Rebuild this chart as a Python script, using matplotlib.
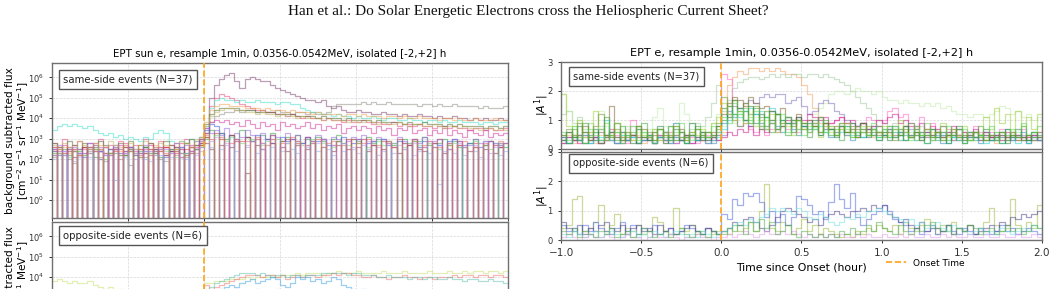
import numpy as np
import matplotlib
matplotlib.use("Agg")
import matplotlib.pyplot as plt
from matplotlib.lines import Line2D

# 2-min bins from -1 h to +2 h around the onset (91 edges, 90 bins)
T_EDGES = np.arange(-60, 122, 2) / 60.0

# ---------------------------------------------------------------------------
# Left column: background-subtracted flux, stored as log10(flux).
# -9 marks bins where the subtracted flux is <= 0 (drawn down to the axis).
# ---------------------------------------------------------------------------
SAME_FLUX = [
    [2.5, 2.3, -9, 2.6, 2.4, 2.2, -9, 2.5, 2.7, 2.4, 2.3, -9, 2.6, 2.5, 2.2, 2.4, -9, 2.3, 2.6, 2.5, 2.4, -9, 2.2, 2.5, 2.6, 2.3, -9, 2.4, 2.7, 2.8,
     3.3, 5.0, 5.6, 5.9, 6.1, 6.2, 5.8, 5.5, 5.9, 6.0, 5.9, 5.8, 5.8, 5.6, 5.5, 5.4, 5.3, 5.2, 5.1, 5.0, 4.9, 4.9, 4.8, 4.9, 4.6, 4.5, 4.6, 4.4, 4.3, 4.3,
     4.4, 4.3, 4.3, 4.2, 4.2, 4.3, 4.2, 4.2, 4.1, 4.2, 4.1, 4.1, 4.2, 4.1, 4.1, 4.0, 4.1, 4.0, 4.0, 4.1, 4.0, 4.0, 3.9, 4.0, 3.9, 4.0, 3.9, 3.9, 4.0, 3.9],
    [2.1, -9, 2.3, 2.0, 1.8, -9, 2.2, 2.4, -9, 2.1, 1.9, 2.3, -9, 2.0, 2.2, 1.7, -9, 2.3, 2.1, -9, 2.4, 2.0, 1.9, -9, 2.2, 2.5, 2.1, -9, 2.3, 2.6,
     3.0, 3.8, 4.1, 4.2, 4.3, 4.3, 4.4, 4.3, 4.4, 4.4, 4.3, 4.4, 4.3, 4.3, 4.4, 4.3, 4.3, 4.2, 4.3, 4.3, 4.2, 4.3, 4.2, 4.2, 4.3, 4.6, 4.7, 4.7, 4.7, 4.7,
     4.7, 4.8, 4.7, 4.8, 4.7, 4.7, 4.8, 4.7, 4.7, 4.7, 4.7, 4.7, 4.6, 4.7, 4.7, 4.6, 4.7, 4.6, 4.6, 4.7, 4.6, 4.6, 4.6, 4.6, 4.5, 4.6, 4.5, 4.5, 4.5, 4.6],
    [2.8, 2.6, 3.0, -9, 2.7, 2.9, 2.5, -9, 2.8, 3.0, 2.6, 2.7, -9, 2.9, 2.8, 2.5, 2.7, -9, 3.0, 2.8, 2.6, 2.9, -9, 2.7, 2.5, 2.8, 3.0, -9, 2.9, 3.1,
     3.5, 4.6, 5.0, 5.2, 5.1, 5.0, 4.9, 4.7, 4.6, 4.5, 4.4, 4.4, 4.3, 4.3, 4.2, 4.2, 4.1, 4.2, 4.1, 4.0, 4.1, 4.0, 4.0, 3.9, 4.0, 3.9, 3.9, 3.8, 3.9, 3.8,
     3.8, 3.9, 3.8, 3.7, 3.8, 3.7, 3.7, 3.8, 3.6, 3.7, 3.7, 3.6, 3.7, 3.6, 3.6, 3.5, 3.6, 3.6, 3.5, 3.6, 3.5, 3.5, 3.4, 3.5, 3.5, 3.4, 3.5, 3.4, 3.4, 3.5],
    [3.4, 3.6, 3.7, 3.6, 3.7, 3.6, 3.5, 3.6, 3.4, 3.3, 3.2, 3.3, 3.1, 3.2, 3.0, 3.1, 3.0, 2.9, 3.1, 3.0, 3.3, 3.4, 3.3, 2.9, 2.8, 2.9, 2.8, 3.0, 2.9, 3.1,
     3.6, 4.5, 4.9, 5.0, 4.9, 4.9, 4.8, 4.9, 4.8, 4.8, 4.9, 4.8, 4.8, 4.8, 4.7, 4.8, 4.8, 4.7, 4.7, 4.5, 4.4, 4.3, 4.3, 4.2, 4.2, 4.1, 4.2, 4.1, 4.1, 4.0,
     4.1, 4.0, 4.0, 4.1, 4.0, 3.9, 4.0, 4.0, 3.9, 3.9, 4.0, 3.9, 3.9, 3.8, 3.9, 3.9, 3.8, 3.9, 3.8, 3.8, 3.9, 3.8, 3.8, 3.8, 3.7, 3.8, 3.8, 3.7, 3.8, 3.8],
    [2.4, -9, 2.6, 2.3, 2.5, 2.2, -9, 2.6, 2.4, 2.7, -9, 2.3, 2.5, 2.4, -9, 2.6, 2.2, 2.5, 2.3, -9, 2.7, 2.4, 2.6, -9, 2.5, 2.3, 2.8, 2.6, -9, 2.9,
     3.8, 4.4, 4.6, 4.7, 4.7, 4.6, 4.6, 4.6, 4.5, 4.5, 4.5, 4.4, 4.5, 4.4, 4.4, 4.4, 4.3, 4.4, 4.3, 4.3, 4.3, 4.2, 4.3, 4.2, 4.2, 4.2, 4.2, 4.1, 4.2, 4.2,
     4.1, 4.2, 4.1, 4.1, 4.1, 4.0, 4.1, 4.1, 4.0, 4.1, 4.0, 4.0, 4.1, 4.0, 4.0, 4.0, 3.9, 4.0, 4.0, 3.9, 4.0, 3.9, 3.9, 4.0, 3.9, 3.9, 3.9, 4.0, 3.9, 3.9],
    [2.8, 2.6, -9, 2.9, 2.7, 2.5, 2.8, -9, 2.6, 2.9, 2.7, -9, 2.5, 2.8, 2.6, 2.9, -9, 2.7, 2.6, 2.8, -9, 2.5, 2.9, 2.7, 2.6, -9, 2.8, 3.0, 2.7, 3.0,
     3.7, 4.2, 4.4, 4.5, 4.5, 4.5, 4.5, 4.4, 4.4, 4.4, 4.3, 4.3, 4.3, 4.3, 4.2, 4.2, 4.2, 4.2, 4.1, 4.1, 4.1, 4.1, 4.0, 4.1, 4.0, 4.0, 4.0, 3.9, 4.0, 3.9,
     3.9, 3.9, 3.9, 3.8, 3.9, 3.8, 3.8, 3.8, 3.8, 3.7, 3.8, 3.7, 3.7, 3.8, 3.7, 3.7, 3.7, 3.6, 3.7, 3.6, 3.7, 3.6, 3.6, 3.6, 3.6, 3.5, 3.6, 3.6, 3.5, 3.6],
    [2.6, 2.4, 2.7, -9, 2.5, 2.3, 2.6, 2.8, -9, 2.4, 2.6, 2.5, -9, 2.7, 2.3, 2.6, 2.4, -9, 2.5, 2.7, 2.3, -9, 2.6, 2.4, 2.8, 2.5, -9, 2.7, 2.6, 3.0,
     3.3, 3.8, 3.9, 3.8, 3.9, 3.7, 3.8, 3.6, 3.9, 3.7, 3.5, 3.8, 3.6, 3.7, 3.4, 3.8, 3.6, 3.7, 3.5, 3.6, 3.8, 3.5, 3.7, 3.4, 3.6, 3.5, 3.7, 3.3, 3.5, 3.6,
     3.4, 3.6, 3.5, 3.3, 3.6, 3.4, 3.5, 3.2, 3.5, 3.4, 3.6, 3.3, 3.4, 3.5, 3.2, 3.4, 3.3, 3.5, 3.2, 3.4, 3.3, 3.1, 3.4, 3.3, 3.2, 3.4, 3.1, 3.3, 3.2, 3.3],
    [2.3, -9, 2.5, 2.2, -9, 2.4, 2.6, -9, 2.1, 2.4, -9, 2.5, 2.3, -9, 2.2, 2.5, -9, 2.4, 2.6, -9, 2.3, 2.1, -9, 2.5, 2.4, -9, 2.2, 2.6, -9, 2.7,
     3.1, 3.4, -9, 3.3, 3.0, 3.2, -9, 3.4, 3.1, 2.9, -9, 3.2, 3.0, 3.3, -9, 2.9, 3.1, -9, 3.2, 2.8, 3.0, -9, 3.1, 2.9, -9, 3.0, 3.2, 2.8, -9, 3.0,
     2.9, -9, 3.1, 2.8, 3.0, -9, 2.9, 2.7, -9, 3.0, 2.8, -9, 2.9, 3.1, 2.7, -9, 2.8, 3.0, -9, 2.9, 2.6, -9, 2.8, 3.0, -9, 2.7, 2.9, -9, 2.8, 2.6],
    [2.4, 2.2, -9, 2.5, -9, 2.3, 2.1, 2.6, -9, 2.4, 2.2, -9, 2.5, 2.3, -9, 2.6, 2.2, -9, 2.4, 2.3, 2.5, -9, 2.1, 2.4, -9, 2.6, 2.3, -9, 2.5, 2.8,
     3.4, 3.7, 3.6, 3.3, -9, 3.2, 3.0, -9, 3.1, 2.9, 3.2, -9, 3.0, 2.8, -9, 3.1, 2.9, 3.0, -9, 2.8, 3.1, -9, 2.9, 3.0, 2.7, -9, 2.9, 3.1, -9, 2.8,
     3.0, -9, 2.8, 2.9, -9, 3.0, 2.7, -9, 2.9, 2.8, -9, 3.0, 2.6, 2.9, -9, 2.8, 2.7, -9, 2.9, 3.0, -9, 2.7, 2.8, -9, 2.6, 2.9, -9, 2.8, 2.7, -9],
    [-9, 2.5, 2.2, -9, 2.4, -9, 2.6, 2.3, -9, 2.5, -9, 2.2, 2.4, -9, 2.6, -9, 2.3, 2.5, -9, 2.2, -9, 2.4, 2.6, -9, 2.3, -9, 2.5, 2.4, -9, 2.7,
     3.1, -9, 3.3, 3.0, -9, 3.2, -9, 2.9, 3.1, -9, 3.0, 2.8, -9, 3.2, -9, 2.9, 3.0, -9, 2.8, -9, 3.1, 2.9, -9, 3.0, -9, 2.7, 2.9, -9, 3.0, -9,
     2.8, 3.0, -9, 2.7, -9, 2.9, 2.8, -9, 3.0, -9, 2.7, 2.9, -9, 2.6, -9, 2.8, 3.0, -9, 2.7, -9, 2.9, 2.6, -9, 2.8, -9, 2.7, 2.9, -9, 2.6, 2.8],
    [2.2, -9, -9, 2.4, 2.1, -9, 2.3, -9, 2.5, 2.0, -9, 2.3, -9, 2.2, 2.4, -9, -9, 2.1, 2.3, -9, 2.5, -9, 2.2, 2.4, -9, 2.1, -9, 2.3, 2.5, -9,
     2.8, 2.5, -9, 2.7, -9, 2.6, 2.9, -9, 1.3, -9, 2.7, 2.5, -9, 2.8, -9, 2.6, 2.4, -9, 2.7, -9, 2.5, 2.8, -9, 2.6, -9, 2.4, 2.7, -9, 2.5, -9,
     2.6, -9, 2.4, 2.7, -9, 2.5, -9, 2.6, 2.3, -9, 2.7, -9, 2.5, 2.4, -9, 2.6, -9, 2.3, 2.5, -9, 2.7, -9, 2.4, 2.6, -9, 2.5, -9, 2.3, 2.6, -9],
    [2.5, 2.7, 2.4, -9, 2.6, 2.5, -9, 2.8, 2.4, 2.6, -9, 2.5, 2.7, -9, 2.4, 2.6, 2.5, -9, 2.7, 2.4, -9, 2.6, 2.5, 2.3, -9, 2.6, 2.7, -9, 2.5, 2.9,
     3.5, 3.3, 3.4, 3.2, 3.5, -9, 3.3, 3.1, 3.4, 3.2, -9, 3.3, 3.0, 3.2, 3.1, -9, 3.3, 3.0, 3.2, -9, 3.1, 2.9, 3.2, 3.0, -9, 3.1, 3.0, -9, 2.9, 3.1,
     3.0, 3.2, -9, 2.9, 3.1, 3.0, -9, 2.8, 3.1, 2.9, -9, 3.0, 2.8, 3.1, -9, 2.9, 3.0, -9, 2.8, 3.0, 2.9, -9, 2.7, 3.0, 2.8, -9, 2.9, 2.7, -9, 2.8],
    [2.0, -9, 2.2, -9, 1.9, 2.1, -9, 2.3, -9, 2.0, -9, 2.2, 1.0, -9, 2.1, -9, 2.3, -9, 2.0, 1.9, -9, 2.2, -9, 2.1, -9, 2.3, 2.0, -9, 2.2, 2.4,
     -9, 2.6, -9, 2.5, 2.7, -9, 2.4, -9, 2.6, -9, 2.3, 2.5, -9, 2.6, -9, 2.4, -9, 2.5, 2.3, -9, 2.6, -9, 2.4, -9, 2.5, 2.2, -9, 2.4, -9, 2.5,
     2.3, -9, 2.5, -9, 2.2, 2.4, -9, 2.3, -9, 2.5, -9, 2.2, 2.4, -9, 2.3, -9, 0.8, 2.4, -9, 2.3, -9, 2.2, -9, 2.4, 2.1, -9, 2.3, -9, 2.2, 2.4],
    [2.7, 2.5, 2.8, 2.6, -9, 2.9, 2.7, 2.5, 2.8, -9, 2.6, 2.9, 2.7, 2.6, -9, 2.8, 2.5, 2.7, 2.9, -9, 2.6, 2.8, 2.7, -9, 2.5, 2.9, 2.8, 2.6, 3.0, 3.1,
     3.6, 4.1, 4.3, 4.4, 4.5, 4.5, 4.4, 4.4, 4.3, 4.3, 4.2, 4.3, 4.2, 4.2, 4.1, 4.2, 4.1, 4.1, 4.0, 4.1, 4.0, 4.0, 4.0, 3.9, 4.0, 3.9, 3.9, 3.9, 3.8, 3.9,
     3.8, 3.8, 3.9, 3.8, 3.7, 3.8, 3.7, 3.7, 3.8, 3.7, 3.6, 3.7, 3.7, 3.6, 3.6, 3.7, 3.6, 3.5, 3.6, 3.6, 3.5, 3.6, 3.5, 3.5, 3.4, 3.5, 3.5, 3.4, 3.5, 3.4],
    [-9, 2.3, -9, 2.1, 2.4, -9, 2.2, -9, 2.5, -9, 2.0, 2.3, -9, 2.2, -9, 2.4, -9, 2.1, -9, 2.3, 2.2, -9, 2.4, -9, 2.1, -9, 2.3, -9, 2.5, 2.6,
     3.0, -9, 3.2, -9, 2.9, 3.1, -9, 2.8, -9, 3.0, -9, 2.7, 2.9, -9, 3.0, -9, 2.8, -9, 2.9, 2.7, -9, 3.0, -9, 2.8, -9, 2.6, 2.9, -9, 2.7, -9,
     2.8, -9, 2.6, -9, 2.9, 2.7, -9, 2.8, -9, 2.6, -9, 2.9, 2.7, -9, 2.8, -9, 2.5, -9, 2.7, 2.8, -9, 2.6, -9, 2.9, -9, 2.7, 2.5, -9, 2.8, -9],
    [2.2, -9, 2.4, -9, -9, 2.3, -9, 2.1, -9, 2.4, 2.2, -9, 2.5, -9, 2.3, -9, 2.0, -9, 2.4, -9, 2.2, 2.5, -9, 2.3, -9, 2.1, -9, 2.4, -9, 2.6,
     -9, 2.9, 3.1, -9, 2.8, -9, 3.0, -9, 2.7, 2.9, -9, 2.8, -9, 3.0, -9, 2.6, 2.8, -9, 2.9, -9, 2.7, -9, 2.8, 3.0, -9, 2.7, -9, 2.8, -9, 2.6,
     -9, 2.7, 2.9, -9, 2.6, -9, 2.8, -9, 2.7, 2.5, -9, 2.8, -9, 2.6, 2.9, -9, 2.7, -9, 2.5, -9, 2.8, 2.6, -9, 2.7, -9, 2.9, -9, 2.6, 2.8, -9],
    [2.6, -9, 2.3, 2.5, -9, 2.2, -9, 2.6, 2.4, -9, 2.3, -9, 2.5, -9, 2.7, 2.4, -9, 2.2, -9, 2.5, -9, 2.6, 2.3, -9, 2.4, -9, 2.2, 2.6, -9, 2.8,
     3.2, 3.0, -9, 3.1, -9, 2.8, 3.0, -9, 2.9, -9, 3.1, -9, 2.7, 3.0, -9, 2.8, -9, 3.1, 2.9, -9, 2.7, -9, 3.0, -9, 2.8, 2.9, -9, 2.7, -9, 3.0,
     -9, 2.8, 3.0, -9, 2.7, -9, 2.9, 2.6, -9, 2.8, -9, 3.0, -9, 2.7, 2.9, -9, 2.6, -9, 2.8, -9, 2.7, 2.9, -9, 2.6, -9, 2.8, -9, 2.7, 2.9, -9],
]
SAME_FLUX_COLORS = ["#7b3f6e", "#8c8c80", "#e8407f", "#3fe0c8", "#f0a050", "#4f6b28",
                    "#d0309a", "#2e9a3a", "#3050d0", "#c8302a", "#8b2a45", "#9060d8",
                    "#90a8f0", "#bdb060", "#70d070", "#b890f0", "#e06060"]

OPP_FLUX = [
    [3.8, 3.9, 3.8, 3.7, 3.8, 3.7, 3.7, 3.8, 3.6, 3.5, 3.4, 3.5, 3.3, 3.4, 3.2, 3.3, 3.1, 3.2, 3.0, 3.1, 2.9, 3.0, 2.8, 3.0, 2.9, 2.7, 2.9, 2.8, 3.0, 3.1,
     3.7, 3.7, 3.8, 3.8, 3.8, 3.9, 3.9, 3.9, 4.0, 3.9, 4.0, 4.0, 4.0, 4.1, 4.0, 4.1, 4.1, 4.1, 4.2, 4.1, 4.2, 4.2, 4.2, 4.1, 4.2, 4.2, 4.3, 4.2, 4.2, 4.2,
     4.3, 4.2, 4.2, 4.2, 4.2, 4.3, 4.2, 4.2, 4.2, 4.3, 4.2, 4.2, 4.2, 4.2, 4.3, 4.2, 4.2, 4.2, 4.3, 4.2, 4.2, 4.3, 4.2, 4.3, 4.3, 4.2, 4.3, 4.3, 4.2, 4.3],
    [3.0, 2.9, 3.1, 3.0, 2.8, 3.0, 2.9, 3.1, 3.0, 2.9, 2.8, 3.0, 3.1, 2.9, 3.0, 2.8, 2.9, 3.1, 3.0, 2.9, 3.0, 2.8, 3.1, 2.9, 3.0, 3.1, 2.9, 3.0, 3.2, 3.3,
     3.6, 3.4, 3.5, 3.6, 3.7, 3.8, 3.9, 4.0, 4.1, 4.1, 4.1, 4.0, 4.1, 4.1, 4.0, 4.1, 3.9, 4.0, 4.1, 4.0, 4.1, 4.1, 4.0, 4.1, 4.1, 4.2, 4.1, 4.2, 4.2, 4.1,
     4.1, 4.0, 4.0, 4.1, 4.0, 4.0, 3.9, 4.0, 4.0, 4.1, 4.0, 4.0, 3.9, 4.0, 4.0, 3.9, 4.0, 4.0, 4.0, 4.1, 4.0, 4.1, 4.1, 4.0, 4.1, 4.1, 4.0, 4.1, 4.1, 4.0],
    [2.8, 3.0, 2.9, 2.7, 2.9, 3.0, 2.8, 2.9, 2.7, 3.0, 2.8, 2.9, 2.6, 2.8, 3.0, 2.9, 2.7, 2.8, 3.0, 2.9, 2.7, 2.8, 2.9, 3.0, 2.8, 2.9, 3.1, 3.0, 3.1, 3.2,
     3.3, 3.5, 3.7, 3.8, 3.9, 4.0, 4.1, 4.2, 4.2, 4.2, 4.1, 4.2, 4.1, 4.0, 4.1, 4.1, 4.0, 4.1, 4.1, 4.0, 4.1, 4.1, 4.1, 4.2, 4.2, 4.2, 4.2, 4.2, 4.1, 4.2,
     4.2, 4.1, 4.1, 4.1, 4.0, 4.0, 4.1, 4.0, 4.0, 4.0, 3.9, 4.0, 4.0, 3.9, 4.0, 4.0, 3.9, 3.9, 4.0, 3.9, 3.9, 3.8, 3.9, 3.9, 3.8, 3.8, 3.9, 3.8, 3.8, 3.7],
    [2.6, 2.8, 2.7, 2.9, 2.6, 2.8, 2.7, 2.5, 2.8, 2.9, 2.7, 2.6, 2.8, 2.7, 2.9, 2.6, 2.8, 2.7, 2.5, 2.8, 2.7, 2.9, 2.6, 2.8, 2.7, 2.9, 2.8, 2.7, 2.9, 3.0,
     3.0, 3.2, 3.3, 3.4, 3.5, 3.6, 3.5, 3.7, 3.8, 3.9, 3.7, 3.8, 3.9, 4.0, 3.9, 3.6, 3.5, 3.7, 4.0, 3.9, 4.0, 3.8, 3.9, 3.7, 3.8, 4.0, 3.9, 3.6, 3.5, 3.4,
     3.3, 3.4, 3.2, 3.3, 3.1, 3.2, 3.0, 3.1, 3.2, 3.0, 3.1, 2.9, 3.0, 3.1, 2.9, 3.0, 2.8, 2.9, 3.0, 2.8, 2.9, 2.7, 2.8, 2.9, 2.7, 2.8, 2.6, 2.7, 2.8, 2.6],
    [2.4, 2.6, 2.5, 2.3, 2.6, 2.4, 2.5, 2.7, 2.4, 2.3, 2.5, 2.6, 2.4, 2.5, 2.3, 2.6, 2.4, 2.5, 2.7, 2.4, 2.5, 2.3, 2.6, 2.4, 2.5, 2.6, 2.4, 2.5, 2.7, 2.8,
     3.0, 3.1, 3.2, 3.3, 3.2, 3.3, 3.4, 3.3, 3.2, 3.3, 3.4, 3.3, 3.2, 3.3, 3.4, 3.3, 3.2, 3.1, 3.3, 3.2, 3.1, 3.2, 3.3, 3.2, 3.1, 3.2, 3.1, 3.0, 3.2, 3.1,
     3.1, 3.0, 3.1, 3.2, 3.0, 3.1, 3.0, 2.9, 3.1, 3.0, 2.9, 3.0, 3.1, 2.9, 3.0, 2.9, 2.8, 3.0, 2.9, 2.8, 2.9, 3.0, 2.8, 2.9, 2.8, 2.7, 2.9, 2.8, 2.7, 2.8],
    [2.2, 2.4, 2.1, 2.3, 2.5, 2.2, 2.4, 2.3, 2.1, 2.4, 2.2, 2.3, 2.5, 2.2, 2.4, 2.1, 2.3, 2.2, 2.4, 2.3, 2.1, 2.4, 2.2, 2.3, 2.5, 2.3, 2.2, 2.4, 2.5, 2.6,
     2.8, 3.0, 3.1, 3.0, 3.2, 3.1, 3.0, 3.1, 3.2, 3.0, 3.1, 2.9, 3.0, 3.1, 2.9, 3.0, 3.1, 2.9, 3.0, 2.8, 2.9, 3.0, 2.8, 2.9, 3.0, 2.8, 2.9, 2.7, 2.8, 2.9,
     2.8, 2.7, 2.9, 2.8, 2.6, 2.8, 2.7, 2.9, 2.7, 2.6, 2.8, 2.7, 2.6, 2.8, 2.7, 2.5, 2.7, 2.6, 2.8, 2.6, 2.5, 2.7, 2.6, 2.5, 2.7, 2.6, 2.4, 2.6, 2.5, 2.6],
]
OPP_FLUX_COLORS = ["#c4df6a", "#ee7070", "#5cc0b0", "#3ea0e0", "#c884d8", "#5aa85a"]

# ---------------------------------------------------------------------------
# Right column: first-order anisotropy |A1|
# ---------------------------------------------------------------------------
SAME_ANIS = [
    [0.3, 0.5, 0.2, 0.4, 0.6, 0.3, 0.2, 0.5, 0.4, 0.3, 0.6, 0.2, 0.4, 0.3, 0.5, 0.2, 0.4, 0.6, 0.3, 0.2, 0.5, 0.3, 0.4, 0.2, 0.5, 0.3, 0.6, 0.4, 0.3, 0.5,
     0.6, 2.2, 2.5, 2.7, 2.6, 2.8, 2.8, 2.7, 2.8, 2.7, 2.8, 2.7, 2.6, 2.6, 2.5, 2.2, 1.9, 1.4, 0.9, 0.7, 0.8, 0.6, 0.7, 0.5, 0.6, 0.4, 0.7, 0.5, 0.4, 0.6,
     0.5, 0.4, 0.6, 0.3, 0.5, 0.4, 0.3, 0.5, 0.4, 0.6, 0.3, 0.4, 0.5, 0.3, 0.4, 0.2, 0.5, 0.3, 0.4, 0.3, 0.5, 0.2, 0.4, 0.3, 0.5, 0.3, 0.4, 0.2, 0.3, 0.4],
    [1.2, 1.3, 0.9, 1.1, 0.7, 0.9, 0.6, 0.8, 0.5, 0.7, 0.6, 0.4, 0.8, 0.5, 0.7, 0.6, 0.4, 0.7, 0.5, 0.6, 0.8, 0.5, 0.6, 0.4, 0.7, 0.9, 0.8, 1.1, 1.6, 2.2,
     1.3, 1.7, 2.1, 2.3, 2.4, 2.5, 2.5, 2.4, 2.5, 2.6, 2.5, 2.6, 2.5, 2.6, 2.6, 2.5, 2.6, 2.6, 2.5, 2.6, 2.5, 2.4, 2.3, 2.2, 2.0, 1.8, 1.6, 1.4, 1.2, 1.0,
     0.9, 0.8, 0.9, 0.7, 0.8, 0.6, 0.7, 0.8, 0.6, 0.5, 0.7, 0.6, 0.5, 0.6, 0.4, 0.5, 0.6, 0.4, 0.5, 0.6, 0.4, 0.5, 0.3, 0.5, 0.4, 0.6, 0.4, 0.5, 0.3, 0.4],
    [1.9, 1.3, 0.8, 1.0, 0.7, 0.9, 0.6, 1.3, 0.8, 0.6, 0.9, 0.5, 0.7, 0.8, 0.6, 0.5, 0.7, 1.1, 1.4, 0.8, 0.6, 0.9, 1.6, 1.2, 0.9, 0.7, 0.8, 0.6, 0.9, 1.2,
     0.8, 1.1, 0.9, 1.2, 1.0, 0.9, 1.1, 0.8, 1.0, 0.9, 1.2, 1.0, 0.9, 0.8, 1.1, 0.9, 1.0, 1.2, 1.4, 1.6, 1.9, 2.0, 2.0, 1.9, 2.0, 2.1, 2.0, 2.0, 1.9, 2.0,
     1.8, 1.7, 1.7, 1.6, 1.7, 1.6, 1.6, 1.5, 1.6, 1.5, 1.6, 1.4, 1.5, 1.3, 1.2, 1.2, 1.1, 1.2, 1.2, 1.1, 1.2, 1.3, 1.5, 1.4, 1.2, 1.3, 1.1, 1.2, 1.0, 1.1],
    [0.3, 0.2, 0.5, 0.3, 0.4, 0.6, 0.3, 0.2, 0.4, 0.7, 0.5, 0.3, 0.2, 1.0, 0.4, 0.3, 0.5, 0.2, 0.4, 0.3, 0.6, 0.2, 0.3, 0.5, 0.4, 0.2, 0.3, 0.5, 0.3, 0.6,
     2.6, 2.4, 1.0, 0.8, 0.9, 0.7, 0.6, 0.8, 0.5, 0.7, 0.6, 0.8, 0.7, 0.9, 0.6, 0.8, 1.0, 0.9, 1.1, 0.8, 0.9, 1.0, 1.1, 0.9, 0.7, 0.8, 0.9, 1.1, 1.0, 0.8,
     1.0, 1.3, 1.4, 1.1, 1.2, 0.9, 0.8, 1.1, 0.7, 0.9, 0.6, 0.8, 0.7, 0.5, 0.7, 0.6, 0.5, 0.8, 0.6, 0.4, 0.6, 0.5, 0.7, 0.4, 0.6, 0.5, 0.7, 0.4, 0.5, 0.6],
    [0.2, 0.4, 0.3, 0.5, 0.2, 0.3, 0.4, 0.2, 0.5, 0.3, 0.4, 0.2, 0.3, 0.5, 0.2, 0.4, 0.3, 0.2, 0.4, 0.3, 0.5, 0.2, 0.3, 0.4, 0.2, 0.3, 0.5, 0.3, 0.4, 0.3,
     0.5, 1.2, 1.5, 1.4, 1.6, 1.7, 1.6, 1.8, 1.9, 1.8, 1.9, 1.9, 1.6, 1.7, 1.8, 1.5, 1.2, 1.3, 1.6, 1.7, 1.6, 1.3, 1.2, 1.0, 0.9, 0.8, 0.9, 0.7, 0.8, 0.6,
     0.7, 0.6, 0.8, 0.5, 0.6, 0.7, 0.5, 0.6, 0.4, 0.5, 0.6, 0.4, 0.5, 0.3, 0.5, 0.4, 0.6, 0.4, 0.3, 0.5, 0.4, 0.3, 0.5, 0.4, 0.3, 0.4, 0.5, 0.3, 0.4, 0.3],
    [0.4, 0.6, 0.3, 0.5, 0.8, 0.4, 0.3, 0.6, 0.5, 1.5, 0.4, 0.6, 0.3, 0.5, 0.4, 0.7, 0.3, 0.5, 0.4, 0.6, 0.3, 0.5, 0.7, 0.4, 0.6, 0.3, 0.5, 0.4, 0.6, 0.8,
     1.2, 1.6, 1.8, 1.7, 1.5, 1.8, 1.6, 1.4, 1.5, 1.3, 1.2, 1.4, 1.1, 1.0, 1.2, 0.9, 1.0, 0.8, 1.1, 0.9, 0.7, 0.8, 0.9, 0.6, 0.8, 0.7, 0.9, 0.6, 0.7, 0.5,
     0.6, 0.7, 0.5, 0.6, 0.8, 0.5, 0.6, 0.4, 0.7, 0.5, 0.6, 0.4, 0.5, 0.6, 0.3, 0.5, 0.4, 0.6, 0.3, 0.5, 0.4, 0.3, 0.5, 0.4, 0.6, 0.3, 0.4, 0.5, 0.3, 0.4],
    [0.4, 0.2, 0.5, 0.3, 0.6, 0.2, 0.4, 0.7, 0.3, 0.5, 0.2, 0.6, 0.3, 0.4, 0.8, 0.3, 0.5, 0.2, 0.4, 0.6, 0.3, 0.9, 0.4, 0.2, 0.5, 0.3, 0.6, 0.4, 0.2, 0.5,
     0.9, 1.3, 1.1, 1.4, 1.0, 0.8, 1.2, 0.9, 0.7, 1.0, 0.8, 0.6, 0.9, 0.7, 0.5, 0.8, 0.6, 0.9, 0.5, 0.7, 0.4, 0.6, 0.8, 0.5, 0.3, 0.6, 0.4, 0.7, 0.5, 0.3,
     0.5, 0.7, 0.4, 0.6, 0.3, 0.5, 0.8, 0.4, 0.6, 0.3, 0.5, 0.2, 0.6, 0.4, 0.7, 0.3, 0.5, 0.4, 0.2, 0.6, 0.3, 0.5, 0.4, 0.7, 0.3, 0.4, 0.6, 0.2, 0.5, 0.3],
    [0.2, 0.4, 0.3, 0.2, 0.5, 0.3, 0.4, 0.2, 0.3, 0.6, 0.2, 0.4, 0.3, 0.5, 0.2, 0.3, 0.4, 0.2, 0.5, 0.3, 0.2, 0.4, 0.3, 0.5, 0.2, 0.4, 0.3, 0.2, 0.4, 0.3,
     0.4, 0.6, 0.5, 0.7, 0.6, 0.8, 0.5, 0.7, 0.6, 0.9, 0.7, 0.8, 1.0, 0.9, 1.1, 1.0, 1.2, 1.1, 1.0, 1.1, 0.9, 1.0, 1.1, 0.9, 1.0, 0.8, 0.9, 0.7, 0.8, 1.0,
     0.9, 1.1, 1.2, 0.9, 1.0, 0.8, 0.7, 0.9, 0.6, 0.8, 0.7, 0.5, 0.6, 0.8, 0.5, 0.6, 0.4, 0.7, 0.5, 0.6, 0.4, 0.5, 0.3, 0.6, 0.4, 0.5, 0.3, 0.4, 0.5, 0.3],
    [0.3, 0.2, 0.4, 0.3, 0.5, 0.2, 0.3, 0.4, 1.0, 0.3, 0.2, 0.5, 0.3, 0.4, 0.2, 0.3, 0.5, 0.2, 0.4, 0.3, 0.2, 0.4, 0.3, 0.2, 0.5, 0.3, 0.4, 0.2, 0.3, 0.4,
     0.7, 1.0, 1.2, 1.1, 1.3, 1.4, 1.2, 1.3, 1.1, 1.4, 1.2, 1.0, 1.1, 0.9, 1.0, 0.8, 0.9, 0.7, 0.8, 0.6, 0.7, 0.5, 0.6, 0.8, 0.5, 0.6, 0.4, 0.5, 0.7, 0.4,
     0.5, 0.4, 0.6, 0.3, 0.5, 0.4, 0.3, 0.5, 0.2, 0.4, 0.3, 0.5, 0.2, 0.4, 0.3, 0.2, 0.4, 0.3, 0.5, 0.2, 0.3, 0.4, 0.2, 0.3, 0.4, 0.2, 0.3, 0.2, 0.4, 0.3],
    [0.5, 0.2, 0.7, 0.3, 0.9, 0.4, 0.6, 0.2, 1.1, 0.5, 0.3, 0.8, 0.4, 0.6, 0.2, 0.9, 0.5, 0.3, 0.7, 0.4, 0.8, 0.3, 0.6, 0.2, 0.5, 0.8, 0.3, 0.6, 0.4, 0.7,
     1.0, 1.5, 1.2, 0.8, 1.3, 0.9, 1.4, 0.7, 1.1, 0.6, 1.2, 0.8, 0.5, 1.0, 0.7, 0.9, 0.4, 0.8, 0.6, 1.0, 0.5, 0.7, 0.3, 0.8, 0.6, 0.4, 0.9, 0.5, 0.7, 0.3,
     0.6, 0.8, 0.4, 0.7, 0.3, 0.9, 0.5, 0.6, 0.2, 0.7, 0.4, 0.8, 0.3, 0.5, 0.7, 0.2, 0.6, 0.4, 0.8, 0.3, 0.5, 0.6, 0.2, 0.7, 0.4, 0.5, 0.8, 0.3, 0.6, 0.4],
    [0.3, 0.6, 0.4, 0.8, 0.2, 0.5, 0.7, 0.3, 0.4, 0.6, 0.9, 0.3, 0.5, 0.2, 0.7, 0.4, 0.3, 0.6, 0.8, 0.2, 0.4, 0.7, 0.3, 0.5, 0.9, 0.4, 0.6, 0.3, 0.5, 0.8,
     1.4, 1.1, 1.7, 1.3, 1.0, 1.5, 0.9, 1.2, 0.8, 1.3, 0.7, 1.0, 0.9, 0.6, 1.1, 0.8, 0.7, 1.0, 0.5, 0.9, 0.7, 0.4, 0.8, 0.6, 0.9, 0.5, 0.7, 0.4, 0.6, 0.8,
     0.5, 0.3, 0.7, 0.5, 0.8, 0.4, 0.6, 0.3, 0.5, 0.7, 0.4, 0.6, 0.2, 0.5, 0.8, 0.4, 0.3, 0.6, 0.5, 0.7, 0.3, 0.4, 0.6, 0.2, 0.5, 0.7, 0.4, 0.3, 0.6, 0.5],
    [1.9, 0.8, 0.5, 1.0, 0.4, 0.6, 1.3, 0.7, 0.3, 0.5, 0.9, 0.4, 0.6, 0.3, 0.8, 0.5, 0.4, 0.7, 0.3, 0.6, 0.5, 0.8, 0.4, 0.3, 0.6, 0.5, 0.7, 0.4, 0.9, 1.1,
     1.6, 1.2, 1.0, 1.3, 0.9, 1.1, 0.8, 1.0, 0.7, 1.2, 0.6, 0.9, 0.8, 0.5, 1.0, 0.7, 0.6, 0.9, 0.4, 0.8, 0.6, 0.5, 0.7, 0.9, 0.4, 0.6, 0.8, 0.5, 0.7, 0.6,
     0.8, 0.5, 0.7, 1.0, 0.6, 0.4, 0.8, 0.5, 0.7, 0.3, 0.6, 0.9, 0.4, 0.7, 0.5, 0.8, 0.3, 0.6, 0.5, 1.1, 0.7, 1.4, 0.9, 1.2, 0.6, 1.3, 0.8, 1.1, 0.7, 1.2],
    [0.6, 0.3, 0.8, 0.4, 0.2, 0.7, 0.5, 0.3, 0.9, 0.4, 0.6, 0.2, 0.5, 0.8, 0.3, 0.6, 0.4, 0.2, 0.7, 0.5, 0.3, 0.6, 0.9, 0.4, 0.3, 0.7, 0.5, 0.4, 0.8, 0.6,
     1.1, 0.9, 1.6, 1.2, 1.4, 1.0, 1.3, 0.8, 1.1, 0.9, 0.7, 1.2, 0.6, 0.9, 1.0, 0.5, 0.8, 0.7, 1.1, 0.6, 0.8, 0.5, 0.9, 0.7, 0.4, 0.8, 0.6, 0.5, 0.9, 0.4,
     0.7, 0.4, 0.8, 0.5, 0.6, 0.3, 0.7, 0.5, 0.9, 0.4, 0.6, 0.3, 0.8, 0.5, 0.4, 0.7, 0.3, 0.6, 0.5, 0.4, 0.8, 0.3, 0.6, 0.5, 0.7, 0.4, 0.9, 0.5, 0.6, 0.8],
    [0.5, 0.7, 0.4, 0.9, 0.6, 0.3, 0.8, 1.2, 0.5, 0.4, 0.7, 0.3, 0.6, 0.5, 0.8, 0.4, 0.6, 0.3, 0.7, 0.5, 0.4, 0.8, 0.6, 0.3, 0.5, 0.7, 0.4, 0.6, 0.5, 0.9,
     1.8, 1.5, 1.7, 1.4, 1.6, 1.2, 1.5, 1.1, 1.3, 1.0, 1.2, 0.9, 1.1, 0.8, 1.0, 0.7, 0.9, 0.8, 0.6, 0.9, 0.7, 0.5, 0.8, 0.6, 0.7, 0.4, 0.6, 0.8, 0.5, 0.6,
     0.4, 0.6, 0.3, 0.5, 0.7, 0.4, 0.6, 0.3, 0.5, 0.4, 0.6, 0.3, 0.5, 0.7, 0.4, 0.3, 0.5, 0.6, 0.4, 0.3, 0.5, 0.4, 0.6, 0.3, 0.5, 0.4, 0.3, 0.5, 0.4, 0.6],
]
SAME_ANIS_COLORS = ["#f0a060", "#9cc89c", "#bfeaa8", "#ff60c0", "#7a6ab8", "#7a5a2a",
                    "#2f80b8", "#c71585", "#20d0d0", "#30a030", "#1e7a3e", "#9acd32",
                    "#50d050", "#6b8e23"]

OPP_ANIS = [
    [0.4, 0.5, 1.4, 1.5, 0.3, 0.4, 0.6, 1.2, 0.3, 0.5, 0.9, 0.2, 0.4, 0.3, 0.5, 0.2, 0.3, 0.8, 0.6, 0.3, 0.2, 1.1, 0.4, 0.3, 0.5, 0.2, 0.3, 0.4, 0.2, 0.3,
     0.3, 0.2, 0.5, 0.3, 0.4, 0.6, 0.3, 1.0, 1.9, 0.4, 0.3, 0.6, 0.5, 0.2, 0.4, 0.7, 0.3, 0.5, 0.2, 0.4, 0.3, 0.2, 0.1, 0.2, 0.1, 0.3, 0.2, 0.4, 0.3, 0.5,
     0.4, 0.3, 0.5, 0.2, 0.6, 0.4, 0.3, 0.5, 0.7, 0.4, 0.2, 0.5, 0.3, 0.6, 0.4, 0.3, 0.5, 0.2, 0.4, 0.6, 1.1, 0.5, 0.3, 0.4, 1.4, 0.5, 0.3, 0.6, 0.4, 1.2],
    [0.5, 0.3, 0.4, 0.2, 0.5, 0.3, 0.6, 0.4, 0.3, 0.2, 0.4, 0.6, 0.3, 0.5, 0.2, 0.4, 0.3, 0.5, 0.2, 0.3, 0.4, 0.2, 0.3, 0.5, 0.4, 0.3, 0.2, 0.4, 0.3, 0.2,
     0.9, 0.7, 1.4, 1.2, 1.6, 1.5, 1.6, 1.3, 0.8, 1.0, 0.6, 0.9, 0.5, 0.8, 1.5, 1.4, 1.2, 0.9, 1.0, 0.7, 1.3, 1.9, 1.4, 1.1, 1.6, 0.8, 0.5, 0.7, 0.9, 1.0,
     1.2, 1.0, 0.7, 0.6, 0.5, 0.3, 0.4, 0.2, 0.3, 0.4, 0.2, 0.3, 0.5, 0.3, 0.2, 0.4, 0.3, 0.2, 0.4, 0.3, 0.2, 0.3, 0.5, 0.3, 0.4, 0.2, 0.3, 0.4, 0.3, 0.2],
    [0.6, 0.4, 0.3, 0.5, 0.2, 0.4, 0.3, 0.5, 0.6, 0.4, 0.3, 0.5, 0.2, 0.4, 0.5, 0.3, 0.4, 0.2, 0.5, 0.3, 0.4, 0.2, 0.3, 0.4, 0.5, 0.3, 0.2, 0.4, 0.3, 0.2,
     0.3, 0.4, 0.6, 0.5, 0.7, 0.8, 0.6, 0.4, 0.3, 0.5, 0.8, 1.0, 1.1, 1.0, 0.9, 0.8, 0.6, 0.7, 0.5, 0.8, 0.9, 1.0, 0.9, 0.8, 1.0, 1.0, 1.1, 1.0, 1.2, 1.1,
     1.2, 0.9, 0.8, 0.6, 0.7, 0.5, 0.4, 0.6, 0.3, 0.5, 0.4, 0.3, 0.5, 0.2, 0.4, 0.3, 0.5, 0.2, 0.3, 0.4, 0.5, 0.3, 0.6, 0.5, 0.8, 0.7, 0.9, 0.8, 0.9, 1.0],
    [0.2, 0.1, 0.3, 0.2, 0.1, 0.2, 0.3, 0.1, 0.2, 0.3, 0.2, 0.1, 0.2, 0.3, 0.1, 0.2, 0.1, 0.3, 0.2, 0.1, 0.2, 0.3, 0.2, 0.1, 0.2, 0.1, 0.3, 0.2, 0.1, 0.2,
     0.3, 0.4, 0.5, 0.6, 0.5, 0.7, 0.6, 0.8, 0.9, 1.1, 1.0, 1.1, 1.0, 0.9, 1.1, 1.0, 0.8, 0.7, 0.9, 0.8, 0.6, 0.5, 0.6, 0.8, 0.7, 0.9, 0.8, 1.0, 1.0, 1.1,
     1.0, 0.9, 0.8, 0.7, 0.6, 0.7, 0.5, 0.6, 0.4, 0.5, 0.6, 0.4, 0.3, 0.5, 0.4, 0.3, 0.2, 0.3, 0.4, 0.2, 0.3, 0.2, 0.4, 0.3, 0.2, 0.3, 0.4, 0.3, 0.5, 0.4],
    [0.1, 0.2, 0.1, 0.0, 0.1, 0.2, 0.1, 0.1, 0.2, 0.1, 0.0, 0.1, 0.2, 0.1, 0.1, 0.0, 0.1, 0.2, 0.1, 0.1, 0.2, 0.1, 0.0, 0.1, 0.1, 0.2, 0.1, 0.1, 0.0, 0.1,
     0.1, 0.2, 0.1, 0.2, 0.3, 0.2, 0.1, 0.2, 0.3, 0.2, 0.2, 0.3, 0.2, 0.3, 0.2, 0.1, 0.2, 0.1, 0.2, 0.1, 0.2, 0.1, 0.2, 0.1, 0.1, 0.2, 0.1, 0.2, 0.1, 0.1,
     0.2, 0.1, 0.1, 0.2, 0.1, 0.2, 0.1, 0.1, 0.2, 0.1, 0.1, 0.2, 0.1, 0.2, 0.1, 0.1, 0.2, 0.1, 0.1, 0.2, 0.1, 0.1, 0.2, 0.1, 0.1, 0.2, 0.1, 0.1, 0.2, 0.1],
    [0.3, 0.2, 0.4, 0.1, 0.3, 0.2, 0.1, 0.3, 0.2, 0.4, 0.1, 0.2, 0.3, 0.1, 0.2, 0.4, 0.3, 0.1, 0.2, 0.3, 0.1, 0.2, 0.4, 0.2, 0.1, 0.3, 0.2, 0.1, 0.3, 0.2,
     0.2, 0.4, 0.3, 0.5, 0.2, 0.6, 0.3, 0.7, 0.4, 0.6, 0.2, 0.3, 0.5, 0.2, 0.1, 0.3, 0.2, 0.1, 0.2, 0.1, 0.2, 0.1, 0.3, 0.2, 0.4, 0.2, 0.3, 0.5, 0.3, 0.6,
     0.4, 0.3, 0.2, 0.5, 0.3, 0.2, 0.4, 0.3, 0.5, 0.6, 0.4, 0.3, 0.5, 0.2, 0.4, 0.3, 0.5, 0.4, 0.2, 0.3, 0.4, 0.2, 0.3, 0.5, 0.3, 0.4, 0.2, 0.3, 0.5, 0.4],
]
OPP_ANIS_COLORS = ["#9ab83a", "#4a60e0", "#483d8b", "#70e0dc", "#e09ae8", "#50a850"]

HEADER = "Han et al.: Do Solar Energetic Electrons cross the Heliospheric Current Sheet?"
TITLE_FLUX = "EPT sun e, resample 1min, 0.0356-0.0542MeV, isolated [-2,+2] h"
TITLE_ANIS = "EPT e, resample 1min, 0.0356-0.0542MeV, isolated [-2,+2] h"
FLUX_LABEL = "background subtracted flux\n[cm$^{-2}$ s$^{-1}$ sr$^{-1}$ MeV$^{-1}$]"
ANIS_LABEL = "$|A^1|$"
ONSET_COLOR = "#ffa31a"

W, H = 1055, 289


def rect(x0, y0, x1, y1):
    """Pixel box (top-left origin) -> figure fraction rect."""
    return [x0 / W, 1 - y1 / H, (x1 - x0) / W, (y1 - y0) / H]


def draw_steps(ax, series, colors, log=False, lw=0.9, alpha=0.5):
    for vals, color in zip(series, colors):
        v = np.asarray(vals, dtype=float)
        if log:
            v = 10.0 ** v
        ax.step(T_EDGES, np.append(v, v[-1]), where="post", color=color,
                lw=lw, alpha=alpha)


def style(ax, label_text, box_y, box_size):
    ax.set_xlim(-1, 2)
    ax.axvline(0, color=ONSET_COLOR, ls="--", lw=1.2, zorder=5)
    ax.grid(True, color="#d8d8d8", ls="--", lw=0.5)
    for sp in ax.spines.values():
        sp.set_color("#707070")
        sp.set_linewidth(1.0)
    ax.tick_params(colors="#333333", labelsize=6, length=2.5, width=0.7)
    ax.set_xticks([-1, -0.5, 0, 0.5, 1, 1.5, 2])
    ax.text(0.025, box_y, label_text, transform=ax.transAxes, ha="left", va="top",
            fontsize=box_size, color="#222222", zorder=10,
            bbox=dict(boxstyle="square,pad=0.45", fc="white", ec="#555555", lw=1.0))


plt.rcParams["font.family"] = "DejaVu Sans"
fig = plt.figure(figsize=(W / 100, H / 100), dpi=100)

# ---- left column: flux ----
ax_lt = fig.add_axes(rect(52, 63, 508, 218))
ax_lb = fig.add_axes(rect(52, 222, 508, 377))
for ax in (ax_lt, ax_lb):
    ax.set_yscale("log")
draw_steps(ax_lt, SAME_FLUX, SAME_FLUX_COLORS, log=True)
draw_steps(ax_lb, OPP_FLUX, OPP_FLUX_COLORS, log=True)
for ax, txt, by in ((ax_lt, "same-side events (N=37)", 0.925),
                    (ax_lb, "opposite-side events (N=6)", 0.945)):
    style(ax, txt, box_y=by, box_size=7.3)
    ax.set_ylim(10 ** -0.88, 10 ** 6.7)
    ax.set_yticks([1e0, 1e1, 1e2, 1e3, 1e4, 1e5, 1e6])
    ax.yaxis.set_minor_locator(matplotlib.ticker.NullLocator())
    ax.tick_params(labelbottom=False)
    ax.set_ylabel(FLUX_LABEL, fontsize=7.6, linespacing=1.0)
    ax.yaxis.set_label_coords(-0.047, 0.5)
ax_lt.set_title(TITLE_FLUX, fontsize=7.4, pad=4)

# ---- right column: anisotropy ----
ax_rt = fig.add_axes(rect(561, 62, 1042, 149))
ax_rb = fig.add_axes(rect(561, 152, 1042, 240))
draw_steps(ax_rt, SAME_ANIS, SAME_ANIS_COLORS)
draw_steps(ax_rb, OPP_ANIS, OPP_ANIS_COLORS)
for ax, txt, by in ((ax_rt, "same-side events (N=37)", 0.89),
                    (ax_rb, "opposite-side events (N=6)", 0.93)):
    style(ax, txt, box_y=by, box_size=7.1)
    ax.set_ylim(0, 3)
    ax.set_yticks([0, 1, 2, 3])
    ax.set_ylabel(ANIS_LABEL, fontsize=8)
    ax.yaxis.set_label_coords(-0.02, 0.5)
ax_rt.tick_params(labelbottom=False)
ax_rb.tick_params(axis="x", labelsize=7.5)
ax_rb.set_xlabel("Time since Onset (hour)", fontsize=7.8, labelpad=3)
ax_rt.set_title(TITLE_ANIS, fontsize=8.1, pad=4)

onset_handle = Line2D([], [], color=ONSET_COLOR, ls="--", lw=1.2)
fig.legend([onset_handle], ["Onset Time"], loc="center left", frameon=False,
           fontsize=6.5, handlelength=2.2, bbox_to_anchor=(878 / W, 1 - 263 / H))

fig.text(528 / W, 1 - 12 / H, HEADER, ha="center", va="center",
         family="Liberation Serif", fontsize=11, color="#111111")

fig.savefig("out.png", dpi=100, facecolor="white")
